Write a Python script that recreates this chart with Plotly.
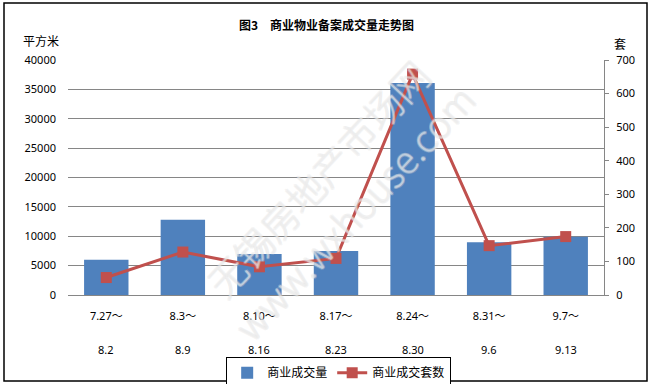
import plotly.graph_objects as go

# ---- data ----
periods_start = ["7.27～", "8.3～", "8.10～", "8.17～", "8.24～", "8.31～", "9.7～"]
periods_end = ["8.2", "8.9", "8.16", "8.23", "8.30", "9.6", "9.13"]
area_sqm = [6000, 12800, 7000, 7500, 36100, 9000, 9900]      # 商业成交量 (平方米)
units = [52, 128, 84, 109, 658, 147, 174]                      # 商业成交套数 (套)
left_ticks = [0, 5000, 10000, 15000, 20000, 25000, 30000, 35000, 40000]
right_ticks = [0, 100, 200, 300, 400, 500, 600, 700]

FONT = "Noto Sans, Noto Sans CJK SC, sans-serif"
CJK = "Noto Sans CJK SC, sans-serif"
x_idx = list(range(len(periods_start)))

fig = go.Figure()
fig.add_trace(go.Bar(
    x=x_idx, y=area_sqm, name="商业成交量",
    marker=dict(color="#4F81BD", line=dict(width=0)),
    yaxis="y",
))
fig.add_trace(go.Scatter(
    x=x_idx, y=units, name="商业成交套数", mode="lines+markers",
    line=dict(color="#C0504D", width=3),
    marker=dict(symbol="square", size=11, color="#C0504D"),
    yaxis="y2",
))

fig.update_layout(
    width=652, height=384,
    margin=dict(l=68, r=48, t=60, b=89, autoexpand=False),
    paper_bgcolor="white", plot_bgcolor="white",
    font=dict(family=FONT, size=11, color="#000000"),
    bargap=0.42,
    showlegend=True,
    legend=dict(
        orientation="h", x=0.505, xanchor="center", y=-0.265, yanchor="top",
        bordercolor="#000000", borderwidth=1, bgcolor="white",
        font=dict(family=CJK, size=12),
        tracegroupgap=0,
    ),
    xaxis=dict(
        tickmode="array", tickvals=x_idx, ticktext=periods_start,
        range=[-0.5, len(x_idx) - 0.5],
        showgrid=False, showline=True, linecolor="#868686", linewidth=1,
        ticks="", ticklabelstandoff=11, zeroline=False,
        tickfont=dict(family=FONT, size=11),
    ),
    yaxis=dict(
        range=[0, 40000], tickmode="array", tickvals=left_ticks, tickformat="d",
        showgrid=True, gridcolor="#868686", gridwidth=1,
        showline=False, zeroline=False, ticks="",
        ticklabelstandoff=11, tickfont=dict(family=FONT, size=11),
    ),
    yaxis2=dict(
        range=[0, 700], tickmode="array", tickvals=right_ticks, tickformat="d",
        overlaying="y", side="right", showgrid=False,
        showline=True, linecolor="#868686", linewidth=1,
        ticks="outside", ticklen=4, tickcolor="#868686",
        zeroline=False, ticklabelstandoff=5,
        tickfont=dict(family=FONT, size=11),
    ),
)

annotations = []
# second row of category labels
for i, lab in enumerate(periods_end):
    annotations.append(dict(
        x=i, y=-0.23, xref="x", yref="paper", text=lab, showarrow=False,
        xanchor="center", yanchor="middle", font=dict(family=FONT, size=11),
    ))
# title and axis unit labels (pixel positions converted to paper coords)
pix_annots = [
    dict(px=326, py=25, text="<b>图3　商业物业备案成交量走势图</b>", size=12),
    dict(px=41, py=40, text="平方米", size=12),
    dict(px=620, py=43, text="套", size=12),
]
for a in pix_annots:
    annotations.append(dict(
        x=(a["px"] - 68) / 536, y=(295 - a["py"]) / 235, xref="paper", yref="paper",
        text=a["text"], showarrow=False, xanchor="center", yanchor="middle",
        font=dict(family=CJK, size=a["size"]),
    ))

# watermark
wm_px, wm_py = 335, 195
annotations.append(dict(
    x=(wm_px - 68) / 536, y=(295 - wm_py) / 235, xref="paper", yref="paper",
    text="无锡房地产市场网<br>www.wxhouse.com", showarrow=False, textangle=-47,
    xanchor="center", yanchor="middle",
    font=dict(family=CJK, size=38, color="rgba(255,255,255,0.3)", weight=300,
              shadow="1px 0 #dcdcdc, -1px 0 #dcdcdc, 0 1px #dcdcdc, 0 -1px #dcdcdc"),
))
fig.update_layout(annotations=annotations)

# outer chart border
fig.add_shape(type="rect", xref="paper", yref="paper",
              x0=(4 - 68) / 536, x1=(647 - 68) / 536,
              y0=(295 - 381) / 235, y1=(295 - 3) / 235,
              line=dict(color="#000000", width=1.5), fillcolor="rgba(0,0,0,0)")

fig.write_html("out.html", config={"displayModeBar": False},
               post_script="document.body.style.margin='0';document.body.style.overflow='hidden';")
